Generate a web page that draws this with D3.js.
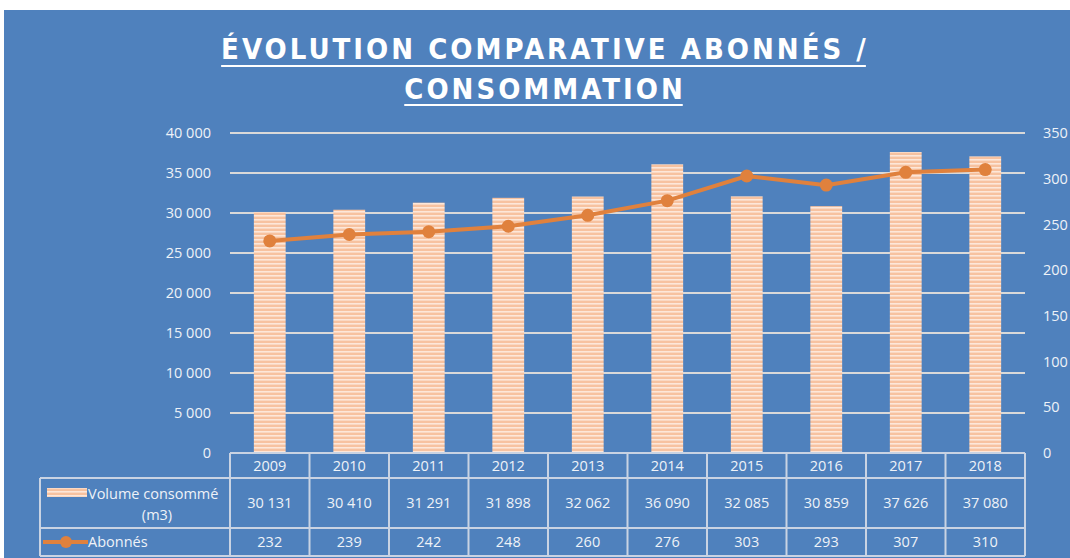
<!DOCTYPE html>
<html>
<head>
<meta charset="utf-8">
<script src="https://cdn.jsdelivr.net/npm/d3@7"></script>
<style>
  body { margin: 0; background: #fff; }
  svg { display: block; font-family: 'Open Sans', sans-serif; }
</style>
</head>
<body>
<div id="chart"></div>
<script>
const years = ['2009', '2010', '2011', '2012', '2013', '2014', '2015', '2016', '2017', '2018']
const volume = [30131, 30410, 31291, 31898, 32062, 36090, 32085, 30859, 37626, 37080]
const abonnes = [232, 239, 242, 248, 260, 276, 303, 293, 307, 310]
const volumeLabels = ['30 131', '30 410', '31 291', '31 898', '32 062', '36 090', '32 085', '30 859', '37 626', '37 080']
const leftTicks = [0, 5000, 10000, 15000, 20000, 25000, 30000, 35000, 40000]
const rightTicks = [0, 50, 100, 150, 200, 250, 300, 350]
const titleLines = ['ÉVOLUTION COMPARATIVE ABONNÉS /', 'CONSOMMATION']

const W = 1070, H = 558
const margin = { top: 133, left: 230, right: 45, bottom: 105 }
const width = W - margin.left - margin.right
const height = H - margin.top - margin.bottom

const blue = '#4f81bd'
const orange = '#e0813d'
const grid = '#d9d9d9'
const txt = '#eef2f8'

let svg = d3.select('#chart').append('svg')
  .attr('width', W).attr('height', H)

// stripes for bars
const defs = svg.append('defs')
const pat = defs.append('pattern')
  .attr('id', 'stripes')
  .attr('patternUnits', 'userSpaceOnUse')
  .attr('width', 8).attr('height', 4)
pat.append('rect').attr('width', 8).attr('height', 4).attr('fill', '#f7c2a0')
pat.append('rect').attr('y', 2).attr('width', 8).attr('height', 1.6).attr('fill', '#fde7d9')

svg.append('rect')
  .attr('x', 4).attr('y', 10).attr('width', W - 4).attr('height', H - 10)
  .attr('fill', blue)

// title
const title = svg.append('g')
titleLines.forEach((t, i) => {
  const tx = title.append('text')
    .attr('x', 545).attr('y', 59 + i * 40)
    .attr('text-anchor', 'middle')
    .attr('fill', '#fff')
    .attr('font-family', "'DejaVu Sans Condensed', 'Open Sans', sans-serif")
    .attr('font-weight', 'bold')
    .attr('font-size', 29)
    .attr('letter-spacing', 3)
    .text(t)
  const bb = tx.node().getBBox()
  title.append('line')
    .attr('x1', bb.x).attr('x2', bb.x + bb.width - 3)
    .attr('y1', 66 + i * 39).attr('y2', 66 + i * 39)
    .attr('stroke', '#fff').attr('stroke-width', 2)
})

const g = svg.append('g')
  .attr('transform', `translate(${margin.left},${margin.top})`)

const x = d3.scaleBand().domain(years).range([0, width]).paddingInner(0).paddingOuter(0)
const yL = d3.scaleLinear().domain([0, 40000]).range([height, 0])
const yR = d3.scaleLinear().domain([0, 350]).range([height, 0])

const fmt = d => d3.format(',')(d).replace(/,/g, ' ')

// gridlines
g.selectAll('.grid')
  .data(leftTicks.slice(1))
  .enter()
  .append('line')
  .attr('x1', 0).attr('x2', width)
  .attr('y1', d => yL(d)).attr('y2', d => yL(d))
  .attr('stroke', grid).attr('stroke-width', 2)

// left axis labels
const axL = g.append('g').call(d3.axisLeft(yL).tickValues(leftTicks).tickFormat(fmt).tickSize(0).tickPadding(19))
axL.select('.domain').remove()
axL.selectAll('text').attr('fill', txt).attr('font-size', 14.5).attr('font-family', "'Open Sans', sans-serif")

const axR = g.append('g').attr('transform', `translate(${width},0)`)
  .call(d3.axisRight(yR).tickValues(rightTicks).tickSize(0).tickPadding(18))
axR.select('.domain').remove()
axR.selectAll('text').attr('fill', txt).attr('font-size', 14.5).attr('font-family', "'Open Sans', sans-serif")

// bars
const bw = x.bandwidth() * 0.4
g.selectAll('.bar')
  .data(volume)
  .enter()
  .append('rect')
  .attr('x', (d, i) => x(years[i]) + (x.bandwidth() - bw) / 2)
  .attr('width', bw)
  .attr('y', d => yL(d))
  .attr('height', d => height - yL(d))
  .attr('fill', 'url(#stripes)')

// line
const line = d3.line()
  .x((d, i) => x(years[i]) + x.bandwidth() / 2)
  .y(d => yR(d))
g.append('path')
  .datum(abonnes)
  .attr('d', line)
  .attr('fill', 'none')
  .attr('stroke', orange)
  .attr('stroke-width', 4)
g.selectAll('.dot')
  .data(abonnes)
  .enter()
  .append('circle')
  .attr('cx', (d, i) => x(years[i]) + x.bandwidth() / 2)
  .attr('cy', d => yR(d))
  .attr('r', 6.5)
  .attr('fill', orange)

// data table
const rowH = [25, 50, 28]
const tableTop = height
const legendX = 40 - margin.left
const tbl = g.append('g').attr('font-size', 14.5).attr('fill', txt)
const rowY = [0, rowH[0], rowH[0] + rowH[1], rowH[0] + rowH[1] + rowH[2]].map(v => v + tableTop)

const tStroke = '#c9d3e3'
// horizontal borders
tbl.append('line').attr('x1', 0).attr('x2', width).attr('y1', rowY[0]).attr('y2', rowY[0])
  .attr('stroke', tStroke).attr('stroke-width', 2)
;[1, 2, 3].forEach(k => {
  tbl.append('line').attr('x1', legendX).attr('x2', width).attr('y1', rowY[k]).attr('y2', rowY[k])
    .attr('stroke', tStroke).attr('stroke-width', 2)
})
// vertical borders
years.forEach(yr => {
  tbl.append('line').attr('x1', x(yr)).attr('x2', x(yr)).attr('y1', rowY[0]).attr('y2', rowY[3])
    .attr('stroke', tStroke).attr('stroke-width', 2)
})
tbl.append('line').attr('x1', width).attr('x2', width).attr('y1', rowY[0]).attr('y2', rowY[3])
  .attr('stroke', tStroke).attr('stroke-width', 2)
tbl.append('line').attr('x1', legendX).attr('x2', legendX).attr('y1', rowY[1]).attr('y2', rowY[3])
  .attr('stroke', tStroke).attr('stroke-width', 2)

const cx = d => x(d) + x.bandwidth() / 2
tbl.selectAll('.yr').data(years).enter().append('text')
  .attr('x', d => cx(d)).attr('y', rowY[0] + rowH[0] / 2).attr('dy', '0.35em')
  .attr('text-anchor', 'middle').text(d => d)
tbl.selectAll('.vol').data(volumeLabels).enter().append('text')
  .attr('x', (d, i) => cx(years[i])).attr('y', rowY[1] + rowH[1] / 2).attr('dy', '0.35em')
  .attr('text-anchor', 'middle').text(d => d)
tbl.selectAll('.ab').data(abonnes).enter().append('text')
  .attr('x', (d, i) => cx(years[i])).attr('y', rowY[2] + rowH[2] / 2).attr('dy', '0.35em')
  .attr('text-anchor', 'middle').text(d => d)

// legend keys in table
tbl.append('rect')
  .attr('x', legendX + 7).attr('y', rowY[1] + 10).attr('width', 40).attr('height', 9)
  .attr('fill', 'url(#stripes)')
tbl.append('text').attr('x', legendX + 48).attr('y', rowY[1] + 21).text('Volume consommé')
tbl.append('text').attr('x', legendX + 117).attr('y', rowY[1] + 42).attr('text-anchor', 'middle').text('(m3)')

tbl.append('line')
  .attr('x1', legendX + 3).attr('x2', legendX + 48)
  .attr('y1', rowY[2] + rowH[2] / 2).attr('y2', rowY[2] + rowH[2] / 2)
  .attr('stroke', orange).attr('stroke-width', 4)
tbl.append('circle')
  .attr('cx', legendX + 26).attr('cy', rowY[2] + rowH[2] / 2).attr('r', 6)
  .attr('fill', orange)
tbl.append('text').attr('x', legendX + 48).attr('y', rowY[2] + rowH[2] / 2).attr('dy', '0.35em').text('Abonnés')
</script>
</body>
</html>
